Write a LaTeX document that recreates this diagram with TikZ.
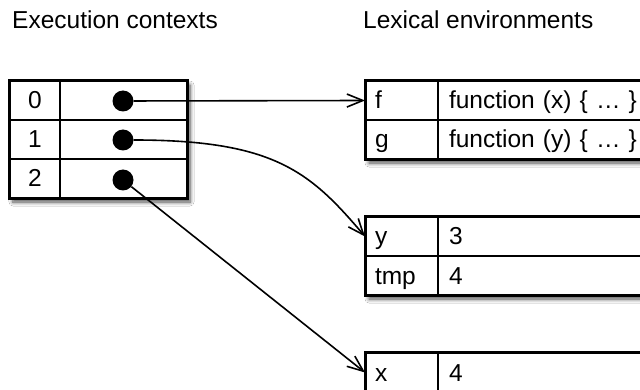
\documentclass[tikz,border=0pt]{standalone}
\usepackage{fontspec}
\setmainfont{Liberation Sans}
\usetikzlibrary{arrows.meta,shadows.blur}
\begin{document}
\begin{tikzpicture}[x=1pt,y=-1pt,
  font=\fontsize{24.5}{29}\selectfont,
  tbl/.style={draw=black, line width=2.4pt, fill=white, inner sep=0pt,
    blur shadow={shadow xshift=3pt, shadow yshift=-4pt, shadow blur steps=6, shadow blur radius=4pt, shadow opacity=70}},
  cell/.style={draw=black, line width=2pt, inner sep=0pt, minimum height=39pt, text height=17pt, text depth=0pt},
  idx/.style={cell, minimum width=50pt},
  dcell/.style={cell, minimum width=127pt},
  key/.style={cell, minimum width=72pt, text width=54pt, inner xsep=9pt, align=left},
  val/.style={cell, minimum width=230pt, text width=208pt, inner xsep=11pt, align=left},
  dot/.style={circle, fill=black, minimum size=21pt, inner sep=0pt},
  ptr/.style={line width=1.6pt, -{Straight Barb[length=16pt,width=13pt,line width=1.6pt]}},
  lbl/.style={anchor=base west, inner sep=0pt}]
\useasboundingbox (0,0) rectangle (640,390);
\fill[white] (0,0) rectangle (640,390);

% headers
\node[lbl] (h1) at (12,29) {Execution contexts};
\node[lbl] (h2) at (363,29) {Lexical environments};

% execution contexts table
\node[tbl, minimum width=177pt, minimum height=117pt] (ctx) at (98.5,139.5) {};
\node[idx] (i0) at (35,100.5) {0};
\node[idx] (i1) at (35,139.5) {1};
\node[idx] (i2) at (35,178.5) {2};
\node[dcell] (c0) at (123.5,100.5) {};
\node[dcell] (c1) at (123.5,139.5) {};
\node[dcell] (c2) at (123.5,178.5) {};
\draw[line width=2.4pt] (ctx.north west) rectangle (ctx.south east);

% lexical environment 1
\node[tbl, minimum width=302pt, minimum height=78pt] (env1) at (517,120) {};
\node[key] (kf) at (402,100.5) {f};
\node[val] (vf) at (553,100.5) {function (x) \{ … \}};
\node[key] (kg) at (402,139.5) {g};
\node[val] (vg) at (553,139.5) {function (y) \{ … \}};
\draw[line width=2.4pt] (env1.north west) rectangle (env1.south east);

% lexical environment 2
\node[tbl, minimum width=302pt, minimum height=78pt] (env2) at (517,256) {};
\node[key] (ky) at (402,236.5) {y};
\node[val] (vy) at (553,236.5) {3};
\node[key] (kt) at (402,275.5) {tmp};
\node[val] (vt) at (553,275.5) {4};
\draw[line width=2.4pt] (env2.north west) rectangle (env2.south east);

% lexical environment 3
\node[tbl, minimum width=302pt, minimum height=39pt] (env3) at (517,372.5) {};
\node[key] (kx) at (402,372.5) {x};
\node[val] (vx) at (553,372.5) {4};
\draw[line width=2.4pt] (env3.north west) rectangle (env3.south east);

% pointers
\node[dot] (d0) at (123,101) {};
\node[dot] (d1) at (123,140) {};
\node[dot] (d2) at (123,180) {};
\draw[ptr] (d0) -- (kf.west);
\draw[ptr] (d1.east) .. controls +(140,0) and +(-55,-65) .. (ky.west);
\draw[ptr] (d2) -- (kx.west);
\end{tikzpicture}
\end{document}
